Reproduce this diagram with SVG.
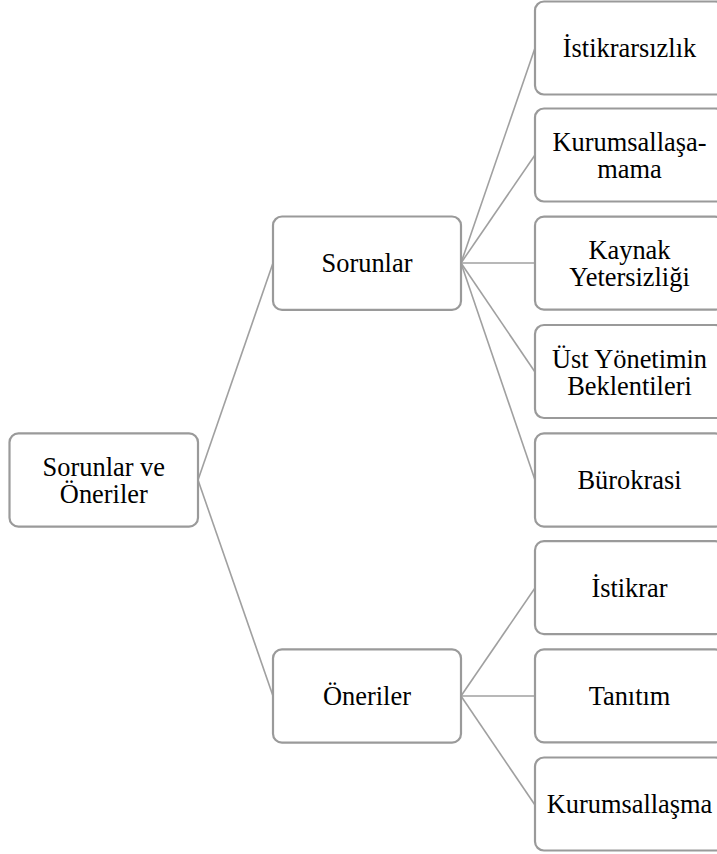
<svg xmlns="http://www.w3.org/2000/svg" width="717" height="854" viewBox="0 0 717 854">
<style>
.box{fill:#ffffff;stroke:#9a9a9a;stroke-width:2.2}
.lbl{font-family:'Liberation Serif','Times New Roman',serif;font-size:26.4px;fill:#000;text-anchor:middle}
.edge{stroke:#a0a0a0;stroke-width:1.6;fill:none}
</style>
<rect width="717" height="854" fill="#ffffff"/>
<g id="connectors">
<line class="edge" x1="198" y1="480" x2="273" y2="263"/>
<line class="edge" x1="198" y1="480" x2="273" y2="696"/>
<line class="edge" x1="461" y1="263" x2="535" y2="48"/>
<line class="edge" x1="461" y1="263" x2="535" y2="155"/>
<line class="edge" x1="461" y1="263" x2="535" y2="263"/>
<line class="edge" x1="461" y1="263" x2="535" y2="372"/>
<line class="edge" x1="461" y1="263" x2="535" y2="480"/>
<line class="edge" x1="461" y1="696" x2="535" y2="588"/>
<line class="edge" x1="461" y1="696" x2="535" y2="696"/>
<line class="edge" x1="461" y1="696" x2="535" y2="805"/>
</g>
<g id="root">
<rect class="box" x="9.5" y="433.3" width="188.5" height="93.4" rx="9"/>
<text class="lbl" x="103.8" y="475.5">Sorunlar ve</text>
<text class="lbl" x="103.8" y="502.5">Öneriler</text>
</g>
<g id="sorunlar">
<rect class="box" x="273" y="216.5" width="188" height="93.4" rx="9"/>
<text class="lbl" x="367" y="272">Sorunlar</text>
</g>
<g id="oneriler">
<rect class="box" x="273" y="649.3" width="188" height="93.4" rx="9"/>
<text class="lbl" x="367" y="705">Öneriler</text>
</g>
<g id="istikrarsizlik">
<rect class="box" x="535" y="1.5" width="189" height="93" rx="9"/>
<text class="lbl" x="629.5" y="57">İstikrarsızlık</text>
</g>
<g id="kurumsallasamama">
<rect class="box" x="535" y="108.5" width="189" height="93" rx="9"/>
<text class="lbl" x="629.5" y="151">Kurumsallaşa-</text>
<text class="lbl" x="629.5" y="178">mama</text>
</g>
<g id="kaynak">
<rect class="box" x="535" y="216.7" width="189" height="93" rx="9"/>
<text class="lbl" x="629.5" y="259">Kaynak</text>
<text class="lbl" x="629.5" y="286">Yetersizliği</text>
</g>
<g id="ust-yonetim">
<rect class="box" x="535" y="325" width="189" height="93" rx="9"/>
<text class="lbl" x="629.5" y="367.5">Üst Yönetimin</text>
<text class="lbl" x="629.5" y="394.5">Beklentileri</text>
</g>
<g id="burokrasi">
<rect class="box" x="535" y="433.3" width="189" height="93.4" rx="9"/>
<text class="lbl" x="629.5" y="489">Bürokrasi</text>
</g>
<g id="istikrar">
<rect class="box" x="535" y="541.2" width="189" height="93" rx="9"/>
<text class="lbl" x="629.5" y="597">İstikrar</text>
</g>
<g id="tanitim">
<rect class="box" x="535" y="649.3" width="189" height="93" rx="9"/>
<text class="lbl" x="629.5" y="705">Tanıtım</text>
</g>
<g id="kurumsallasma">
<rect class="box" x="535" y="757.5" width="189" height="93" rx="9"/>
<text class="lbl" x="629.5" y="813">Kurumsallaşma</text>
</g>
</svg>
